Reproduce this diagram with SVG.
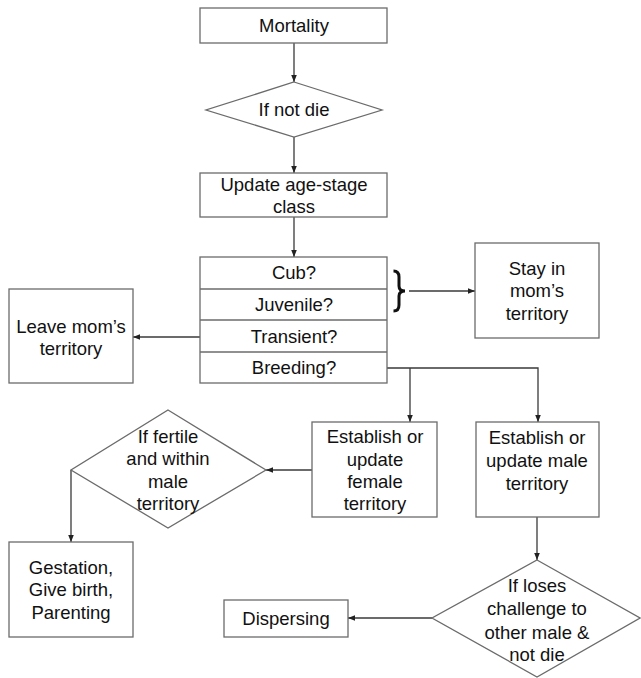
<svg xmlns="http://www.w3.org/2000/svg" width="641" height="678" viewBox="0 0 641 678">
<style>
.box{fill:#fff;stroke:#6b6b6b;stroke-width:1.3}
.t{font-family:"Liberation Sans",Arial,sans-serif;font-size:18.5px;fill:#111;text-anchor:middle}
.c{fill:none;stroke:#3a3a3a;stroke-width:1.3}
</style>
<defs>
<marker id="ah" viewBox="0 0 10 10" refX="10" refY="5" markerWidth="7" markerHeight="7" markerUnits="userSpaceOnUse" orient="auto">
<path d="M0,1 L10,5 L0,9 z" fill="#222"/>
</marker>
</defs>
<rect width="641" height="678" fill="#fff"/>
<g id="connectors">
<line class="c" x1="294" y1="43" x2="294" y2="82" marker-end="url(#ah)"/>
<line class="c" x1="294" y1="137" x2="294" y2="173" marker-end="url(#ah)"/>
<line class="c" x1="294" y1="217" x2="294" y2="257" marker-end="url(#ah)"/>
<line class="c" x1="409" y1="291" x2="475" y2="291" marker-end="url(#ah)"/>
<line class="c" x1="200" y1="337" x2="133" y2="337" marker-end="url(#ah)"/>
<polyline class="c" points="387,368 538,368 538,422" marker-end="url(#ah)"/>
<line class="c" x1="410" y1="368" x2="410" y2="422" marker-end="url(#ah)"/>
<line class="c" x1="312" y1="470" x2="266" y2="470" marker-end="url(#ah)"/>
<polyline class="c" points="71,470 71,542" marker-end="url(#ah)"/>
<line class="c" x1="537" y1="517" x2="537" y2="560" marker-end="url(#ah)"/>
<line class="c" x1="432" y1="618" x2="348" y2="618" marker-end="url(#ah)"/>
<path d="M393.5,271 Q399,271 399,277 L399,286 Q399,291 405,291 Q399,291 399,296 L399,305 Q399,311 393.5,311" fill="none" stroke="#111" stroke-width="3"/>
</g>
<g id="mortality">
<rect class="box" x="200" y="8" width="187" height="35"/>
<text class="t" x="294" y="32">Mortality</text>
</g>
<g id="notdie">
<polygon class="box" points="294,82 382,110 294,137 206,110"/>
<text class="t" x="294" y="116">If not die</text>
</g>
<g id="update">
<rect class="box" x="200" y="173" width="187" height="44"/>
<text class="t" x="294" y="191">Update age-stage</text>
<text class="t" x="294" y="213">class</text>
</g>
<g id="stages">
<rect class="box" x="200" y="257" width="187" height="126"/>
<line class="box" x1="200" y1="289" x2="387" y2="289"/>
<line class="box" x1="200" y1="320" x2="387" y2="320"/>
<line class="box" x1="200" y1="352" x2="387" y2="352"/>
<text class="t" x="294" y="279">Cub?</text>
<text class="t" x="294" y="311">Juvenile?</text>
<text class="t" x="294" y="343">Transient?</text>
<text class="t" x="294" y="374">Breeding?</text>
</g>
<g id="stay">
<rect class="box" x="475" y="243" width="124" height="95"/>
<text class="t" x="537" y="275">Stay in</text>
<text class="t" x="537" y="297">mom’s</text>
<text class="t" x="537" y="320">territory</text>
</g>
<g id="leave">
<rect class="box" x="9" y="289" width="124" height="94"/>
<text class="t" x="71" y="333">Leave mom’s</text>
<text class="t" x="71" y="355">territory</text>
</g>
<g id="female">
<rect class="box" x="312" y="422" width="125" height="95"/>
<text class="t" x="375" y="443">Establish or</text>
<text class="t" x="375" y="466">update</text>
<text class="t" x="375" y="488">female</text>
<text class="t" x="375" y="510">territory</text>
</g>
<g id="fertile">
<polygon class="box" points="168,410 266,470 168,528 71,470"/>
<text class="t" x="168" y="443">If fertile</text>
<text class="t" x="168" y="465">and within</text>
<text class="t" x="168" y="488">male</text>
<text class="t" x="168" y="510">territory</text>
</g>
<g id="male">
<rect class="box" x="476" y="422" width="123" height="95"/>
<text class="t" x="537" y="444">Establish or</text>
<text class="t" x="537" y="467">update male</text>
<text class="t" x="537" y="490">territory</text>
</g>
<g id="gestation">
<rect class="box" x="9" y="542" width="124" height="95"/>
<text class="t" x="71" y="574">Gestation,</text>
<text class="t" x="71" y="596">Give birth,</text>
<text class="t" x="71" y="619">Parenting</text>
</g>
<g id="loses">
<polygon class="box" points="537,560 640,618 537,677 432,618"/>
<text class="t" x="537" y="592">If loses</text>
<text class="t" x="537" y="615">challenge to</text>
<text class="t" x="537" y="639">other male &amp;</text>
<text class="t" x="537" y="661">not die</text>
</g>
<g id="dispersing">
<rect class="box" x="224" y="600" width="124" height="37"/>
<text class="t" x="286" y="625">Dispersing</text>
</g>
</svg>
